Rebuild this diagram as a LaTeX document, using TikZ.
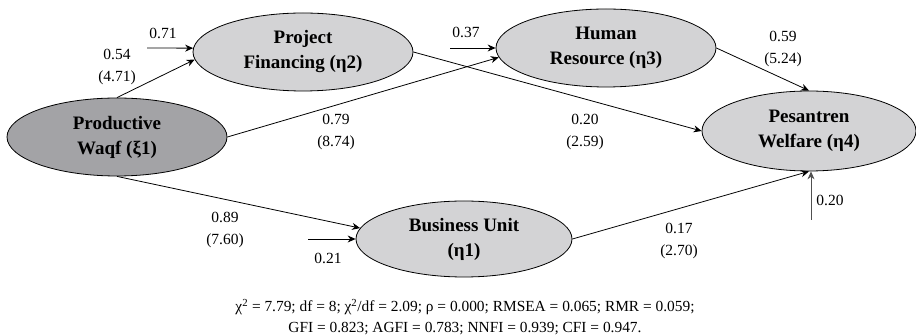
\documentclass[tikz,border=0pt]{standalone}
\usepackage{fontspec}
\setmainfont{Liberation Serif}
\usetikzlibrary{arrows.meta,shapes.geometric}
\definecolor{darkfill}{RGB}{163,163,166}
\definecolor{lightfill}{RGB}{211,211,213}
\definecolor{errline}{RGB}{80,80,80}
\begin{document}
\begin{tikzpicture}[x=1pt,y=-1pt,
  lv/.style={ellipse,draw=black,line width=0.8pt,inner sep=0pt,
    minimum width=220pt,minimum height=78pt,align=center,
    font=\fontsize{19}{25}\selectfont\bfseries},
  light/.style={lv,fill=lightfill},
  dark/.style={lv,fill=darkfill},
  arr/.style={line width=0.8pt,-{Stealth[length=8pt,width=7pt]}},
  lab/.style={inner sep=0pt,align=center,font=\fontsize{15.5}{22}\selectfont},
  captext/.style={inner sep=0pt,align=center,font=\fontsize{15.4}{21}\selectfont}
]
\useasboundingbox (0,0) rectangle (916,336);

\node[dark]  (waqf) at (117,137) {Productive\\Waqf (ξ1)};
\node[light] (proj) at (303,52)  {Project\\Financing (η2)};
\node[light] (hum)  at (606,48)  {Human\\Resource (η3)};
\node[light, minimum width=214pt, minimum height=80pt] (pes) at (809,131) {Pesantren\\Welfare (η4)};
\node[light, minimum width=216pt, minimum height=76pt] (bus) at (464,239) {Business Unit\\(η1)};

\coordinate (e2) at (147,48);
\coordinate (e3) at (450,48);
\coordinate (e1) at (308,239);
\coordinate (e4) at (811,220);

\draw[arr] (waqf.north) -- (proj.184);
\draw[arr] (e2) -- (proj.178);
\draw[arr] (waqf.east) -- (hum.185);
\draw[arr] (e3) -- (hum.180);
\draw[arr] (proj.east) -- (pes.west);
\draw[arr] (hum.east) -- (pes.north);
\draw[arr] (waqf.south) -- (bus.174);
\draw[arr] (e1) -- (bus.west);
\draw[arr] (bus.east) -- (pes.south);
\draw[arr,draw=errline,fill=errline] (e4) -- (e4 |- pes.south);

\node[lab] (l71) at (163,33) {0.71};
\node[lab] (l54) at (117,67) {0.54\\(4.71)};
\node[lab] (l79) at (336,132) {0.79\\(8.74)};
\node[lab] (l37) at (466,32) {0.37};
\node[lab] (l20a) at (585,132) {0.20\\(2.59)};
\node[lab] (l59) at (783,49) {0.59\\(5.24)};
\node[lab] (l89) at (225,230) {0.89\\(7.60)};
\node[lab] (l21) at (328,258) {0.21};
\node[lab] (l17) at (679,241) {0.17\\(2.70)};
\node[lab] (l20b) at (830,200) {0.20};

\node[captext] (caption) at (465,317) {χ\textsuperscript{2} = 7.79; df = 8; χ\textsuperscript{2}/df = 2.09; ρ = 0.000; RMSEA = 0.065; RMR = 0.059;\\
GFI = 0.823; AGFI = 0.783; NNFI = 0.939; CFI = 0.947.};
\end{tikzpicture}
\end{document}
